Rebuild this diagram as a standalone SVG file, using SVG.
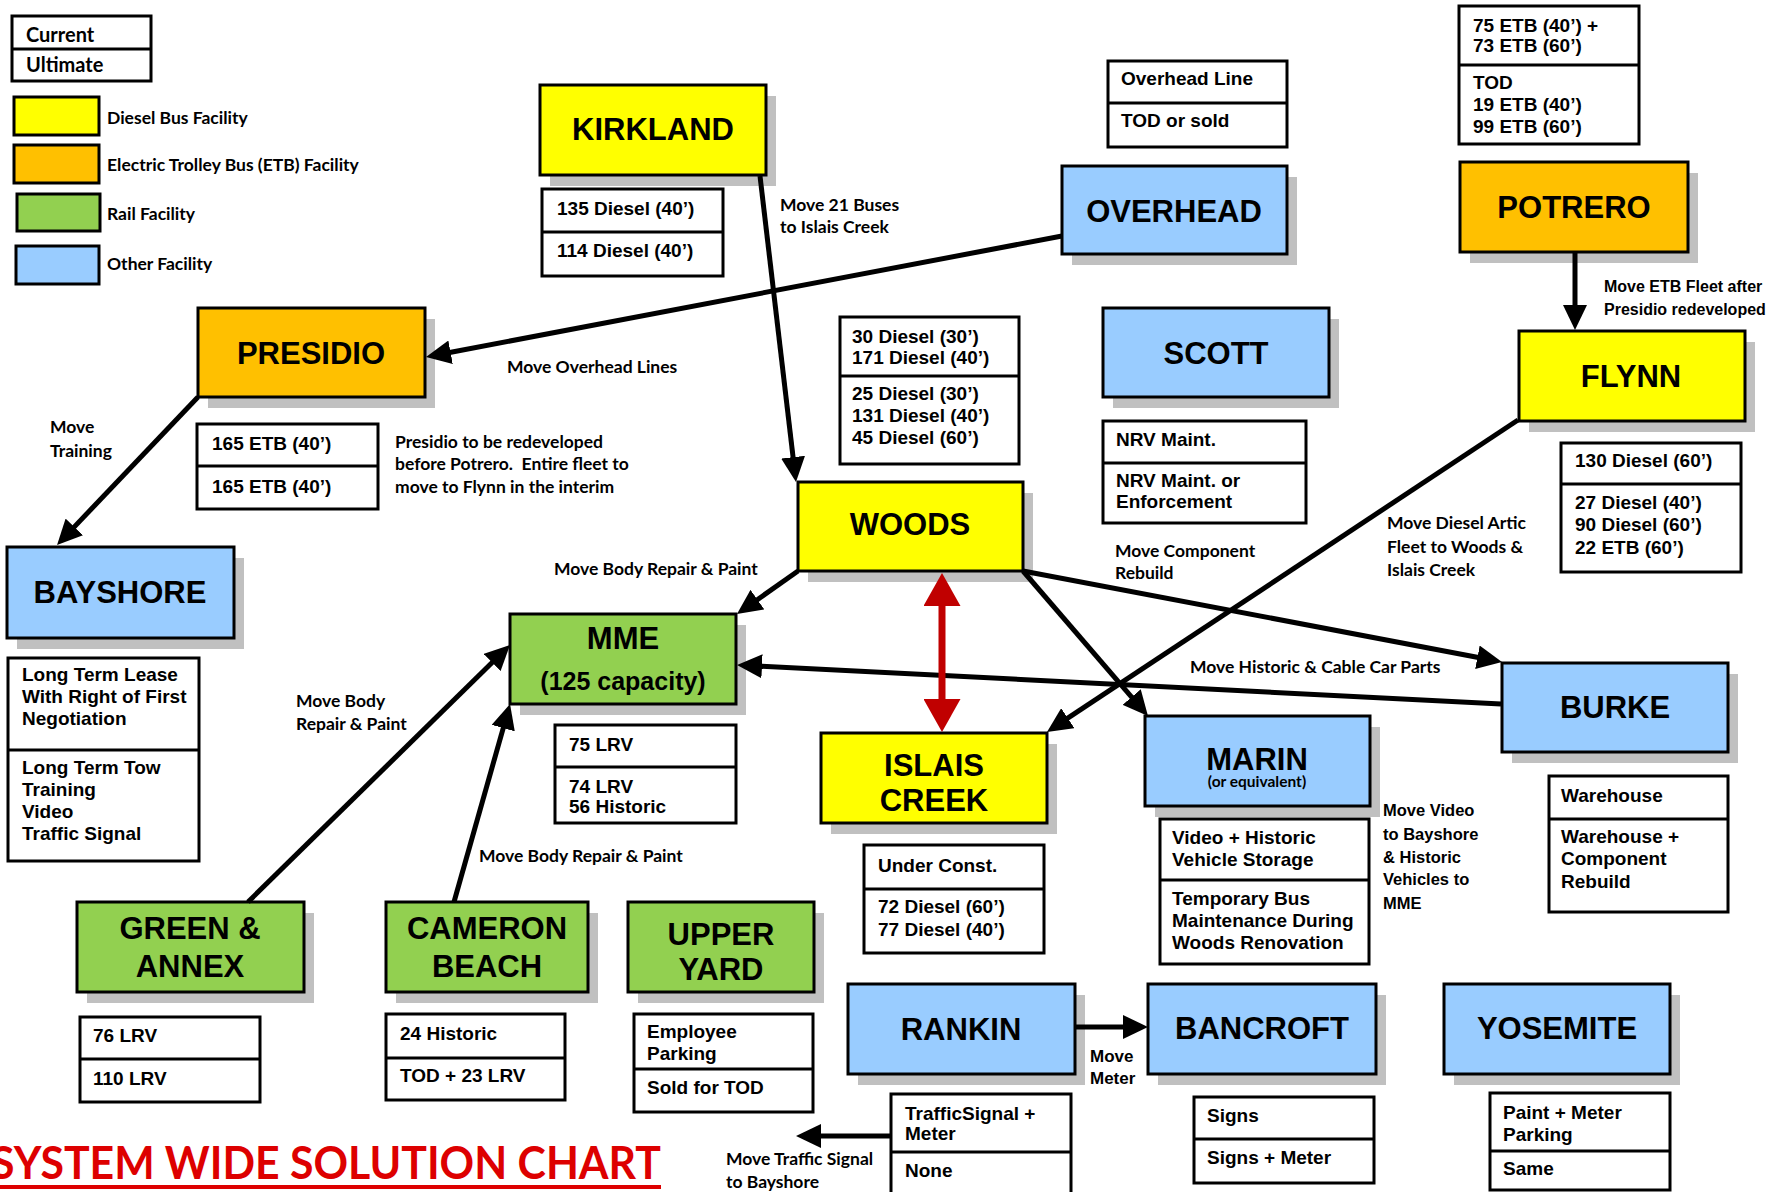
<svg xmlns="http://www.w3.org/2000/svg" width="1786" height="1192" viewBox="0 0 1786 1192">
<style>
.sh{fill:#c0c0c0}
.bx{stroke:#000;stroke-width:3}
.y{fill:#ffff00}.o{fill:#ffc000}.g{fill:#92d050}.b{fill:#99ccff}
.db{fill:#fff;stroke:#000;stroke-width:3}
.dv{stroke:#000;stroke-width:3}
.t{font-family:"Liberation Sans",Arial,sans-serif;font-weight:bold;font-size:31px;text-anchor:middle;fill:#000}
.d{font-family:"Liberation Sans",Arial,sans-serif;font-weight:bold;font-size:19px;fill:#000}
.c{font-family:Lato,"Open Sans",sans-serif;font-weight:bold;font-size:17.5px;fill:#000}
.n{font-family:"Liberation Sans",Arial,sans-serif;font-weight:bold;font-size:16px;fill:#000}
.cn{fill:none;stroke:#000;stroke-width:5;marker-end:url(#ah)}
</style>
<defs>
<marker id="ah" markerUnits="userSpaceOnUse" markerWidth="26" markerHeight="24" refX="1" refY="12" orient="auto"><path d="M0,0 L25,12 L0,24 z" fill="#000"/></marker>
<marker id="ahr" markerUnits="userSpaceOnUse" markerWidth="34" markerHeight="37" refX="0" refY="18.5" orient="auto-start-reverse"><path d="M0,0 L33,18.5 L0,37 z" fill="#c00000"/></marker>
</defs>
<rect width="1786" height="1192" fill="#fff"/>

<g id="legend">
<rect class="db" x="12" y="16" width="139" height="65"/>
<line class="dv" x1="12" y1="49" x2="151" y2="49"/>
<text class="c" x="26" y="42" style="font-size:20px">Current</text>
<text class="c" x="26" y="72" style="font-size:20px">Ultimate</text>
<rect class="bx y" x="14" y="97" width="85" height="38"/>
<rect class="bx o" x="14" y="145" width="85" height="38"/>
<rect class="bx g" x="17" y="194" width="83" height="37"/>
<rect class="bx b" x="16" y="246" width="83" height="38"/>
<text class="c" x="107" y="124">Diesel Bus Facility</text>
<text class="c" x="107" y="171">Electric Trolley Bus (ETB) Facility</text>
<text class="c" x="107" y="220">Rail Facility</text>
<text class="c" x="107" y="270">Other Facility</text>
</g>

<g id="kirkland"><rect class="sh" x="550" y="96" width="226" height="90"/><rect class="bx y" x="540" y="85" width="226" height="90"/><text class="t" x="653" y="140">KIRKLAND</text></g>
<g id="overhead"><rect class="sh" x="1072" y="177" width="225" height="88"/><rect class="bx b" x="1062" y="166" width="225" height="88"/><text class="t" x="1174" y="222">OVERHEAD</text></g>
<g id="potrero"><rect class="sh" x="1470" y="173" width="228" height="90"/><rect class="bx o" x="1460" y="162" width="228" height="90"/><text class="t" x="1574" y="218">POTRERO</text></g>
<g id="presidio"><rect class="sh" x="208" y="319" width="227" height="89"/><rect class="bx o" x="198" y="308" width="227" height="89"/><text class="t" x="311" y="364">PRESIDIO</text></g>
<g id="scott"><rect class="sh" x="1113" y="319" width="226" height="89"/><rect class="bx b" x="1103" y="308" width="226" height="89"/><text class="t" x="1216" y="364">SCOTT</text></g>
<g id="flynn"><rect class="sh" x="1529" y="342" width="226" height="90"/><rect class="bx y" x="1519" y="331" width="226" height="90"/><text class="t" x="1631" y="387">FLYNN</text></g>
<g id="woods"><rect class="sh" x="808" y="493" width="225" height="89"/><rect class="bx y" x="798" y="482" width="225" height="89"/><text class="t" x="910" y="535">WOODS</text></g>
<g id="bayshore"><rect class="sh" x="17" y="558" width="227" height="91"/><rect class="bx b" x="7" y="547" width="227" height="91"/><text class="t" x="120" y="603">BAYSHORE</text></g>
<g id="mme"><rect class="sh" x="520" y="625" width="226" height="90"/><rect class="bx g" x="510" y="614" width="226" height="90"/><text class="t" x="623" y="649">MME</text><text class="t" x="623" y="690" style="font-size:25px">(125 capacity)</text></g>
<g id="burke"><rect class="sh" x="1512" y="674" width="226" height="89"/><rect class="bx b" x="1502" y="663" width="226" height="89"/><text class="t" x="1615" y="718">BURKE</text></g>
<g id="islais"><rect class="sh" x="831" y="744" width="226" height="90"/><rect class="bx y" x="821" y="733" width="226" height="90"/><text class="t" x="934" y="776">ISLAIS</text><text class="t" x="934" y="811">CREEK</text></g>
<g id="marin"><rect class="sh" x="1155" y="727" width="225" height="90"/><rect class="bx b" x="1145" y="716" width="225" height="90"/><text class="t" x="1257" y="770">MARIN</text><text class="c" x="1257" y="787" style="font-size:15.5px;text-anchor:middle">(or equivalent)</text></g>
<g id="green-annex"><rect class="sh" x="87" y="913" width="227" height="90"/><rect class="bx g" x="77" y="902" width="227" height="90"/><text class="t" x="190" y="939">GREEN &amp;</text><text class="t" x="190" y="977">ANNEX</text></g>
<g id="cameron-beach"><rect class="sh" x="396" y="913" width="202" height="90"/><rect class="bx g" x="386" y="902" width="202" height="90"/><text class="t" x="487" y="939">CAMERON</text><text class="t" x="487" y="977">BEACH</text></g>
<g id="upper-yard"><rect class="sh" x="638" y="913" width="186" height="90"/><rect class="bx g" x="628" y="902" width="186" height="90"/><text class="t" x="721" y="945">UPPER</text><text class="t" x="721" y="980">YARD</text></g>
<g id="rankin"><rect class="sh" x="858" y="995" width="227" height="90"/><rect class="bx b" x="848" y="984" width="227" height="90"/><text class="t" x="961" y="1040">RANKIN</text></g>
<g id="bancroft"><rect class="sh" x="1158" y="995" width="228" height="90"/><rect class="bx b" x="1148" y="984" width="228" height="90"/><text class="t" x="1262" y="1039">BANCROFT</text></g>
<g id="yosemite"><rect class="sh" x="1454" y="995" width="226" height="90"/><rect class="bx b" x="1444" y="984" width="226" height="90"/><text class="t" x="1557" y="1039">YOSEMITE</text></g>

<g id="kirkland-data"><rect class="db" x="542" y="189" width="181" height="87"/><line class="dv" x1="542" y1="232" x2="723" y2="232"/><text class="d" x="557" y="215">135 Diesel (40’)</text><text class="d" x="557" y="257">114 Diesel (40’)</text></g>
<g id="overhead-data"><rect class="db" x="1108" y="61" width="179" height="86"/><line class="dv" x1="1108" y1="103" x2="1287" y2="103"/><text class="d" x="1121" y="85">Overhead Line</text><text class="d" x="1121" y="127">TOD or sold</text></g>
<g id="potrero-data"><rect class="db" x="1459" y="6" width="180" height="138"/><line class="dv" x1="1459" y1="65" x2="1639" y2="65"/><text class="d" x="1473" y="32">75 ETB (40’) +</text><text class="d" x="1473" y="52">73 ETB (60’)</text><text class="d" x="1473" y="89">TOD</text><text class="d" x="1473" y="111">19 ETB (40’)</text><text class="d" x="1473" y="133">99 ETB (60’)</text></g>
<g id="presidio-data"><rect class="db" x="197" y="424" width="181" height="85"/><line class="dv" x1="197" y1="466" x2="378" y2="466"/><text class="d" x="212" y="450">165 ETB (40’)</text><text class="d" x="212" y="493">165 ETB (40’)</text></g>
<g id="woods-data"><rect class="db" x="840" y="317" width="179" height="147"/><line class="dv" x1="840" y1="376" x2="1019" y2="376"/><text class="d" x="852" y="343">30 Diesel (30’)</text><text class="d" x="852" y="364">171 Diesel (40’)</text><text class="d" x="852" y="400">25 Diesel (30’)</text><text class="d" x="852" y="422">131 Diesel (40’)</text><text class="d" x="852" y="444">45 Diesel (60’)</text></g>
<g id="scott-data"><rect class="db" x="1103" y="421" width="203" height="102"/><line class="dv" x1="1103" y1="463" x2="1306" y2="463"/><text class="d" x="1116" y="446">NRV Maint.</text><text class="d" x="1116" y="487">NRV Maint. or</text><text class="d" x="1116" y="508">Enforcement</text></g>
<g id="flynn-data"><rect class="db" x="1561" y="443" width="180" height="129"/><line class="dv" x1="1561" y1="484" x2="1741" y2="484"/><text class="d" x="1575" y="467">130 Diesel (60’)</text><text class="d" x="1575" y="509">27 Diesel (40’)</text><text class="d" x="1575" y="531">90 Diesel (60’)</text><text class="d" x="1575" y="554">22 ETB (60’)</text></g>
<g id="bayshore-data"><rect class="db" x="8" y="658" width="191" height="203"/><line class="dv" x1="8" y1="750" x2="199" y2="750"/><text class="d" x="22" y="681">Long Term Lease</text><text class="d" x="22" y="703">With Right of First</text><text class="d" x="22" y="725">Negotiation</text><text class="d" x="22" y="774">Long Term Tow</text><text class="d" x="22" y="796">Training</text><text class="d" x="22" y="818">Video</text><text class="d" x="22" y="840">Traffic Signal</text></g>
<g id="mme-data"><rect class="db" x="555" y="725" width="181" height="98"/><line class="dv" x1="555" y1="767" x2="736" y2="767"/><text class="d" x="569" y="751">75 LRV</text><text class="d" x="569" y="793">74 LRV</text><text class="d" x="569" y="813">56 Historic</text></g>
<g id="islais-data"><rect class="db" x="864" y="845" width="180" height="108"/><line class="dv" x1="864" y1="889" x2="1044" y2="889"/><text class="d" x="878" y="872">Under Const.</text><text class="d" x="878" y="913">72 Diesel (60’)</text><text class="d" x="878" y="936">77 Diesel (40’)</text></g>
<g id="marin-data"><rect class="db" x="1160" y="819" width="209" height="145"/><line class="dv" x1="1160" y1="880" x2="1369" y2="880"/><text class="d" x="1172" y="844">Video + Historic</text><text class="d" x="1172" y="866">Vehicle Storage</text><text class="d" x="1172" y="905">Temporary Bus</text><text class="d" x="1172" y="927">Maintenance During</text><text class="d" x="1172" y="949">Woods Renovation</text></g>
<g id="burke-data"><rect class="db" x="1549" y="776" width="179" height="136"/><line class="dv" x1="1549" y1="819" x2="1728" y2="819"/><text class="d" x="1561" y="802">Warehouse</text><text class="d" x="1561" y="843">Warehouse +</text><text class="d" x="1561" y="865">Component</text><text class="d" x="1561" y="888">Rebuild</text></g>
<g id="green-data"><rect class="db" x="80" y="1017" width="180" height="85"/><line class="dv" x1="80" y1="1059" x2="260" y2="1059"/><text class="d" x="93" y="1042">76 LRV</text><text class="d" x="93" y="1085">110 LRV</text></g>
<g id="cameron-data"><rect class="db" x="386" y="1014" width="179" height="86"/><line class="dv" x1="386" y1="1058" x2="565" y2="1058"/><text class="d" x="400" y="1040">24 Historic</text><text class="d" x="400" y="1082">TOD + 23 LRV</text></g>
<g id="upper-data"><rect class="db" x="634" y="1014" width="179" height="98"/><line class="dv" x1="634" y1="1069" x2="813" y2="1069"/><text class="d" x="647" y="1038">Employee</text><text class="d" x="647" y="1060">Parking</text><text class="d" x="647" y="1094">Sold for TOD</text></g>
<g id="rankin-data"><rect class="db" x="891" y="1094" width="180" height="110"/><line class="dv" x1="891" y1="1152" x2="1071" y2="1152"/><text class="d" x="905" y="1120">TrafficSignal +</text><text class="d" x="905" y="1140">Meter</text><text class="d" x="905" y="1177">None</text></g>
<g id="bancroft-data"><rect class="db" x="1194" y="1097" width="180" height="86"/><line class="dv" x1="1194" y1="1139" x2="1374" y2="1139"/><text class="d" x="1207" y="1122">Signs</text><text class="d" x="1207" y="1164">Signs + Meter</text></g>
<g id="yosemite-data"><rect class="db" x="1490" y="1093" width="180" height="97"/><line class="dv" x1="1490" y1="1151" x2="1670" y2="1151"/><text class="d" x="1503" y="1119">Paint + Meter</text><text class="d" x="1503" y="1141">Parking</text><text class="d" x="1503" y="1175">Same</text></g>

<g id="connectors">
<line class="cn" x1="760" y1="176" x2="793.2" y2="458.2"/>
<line class="cn" x1="1062" y1="236" x2="449.6" y2="352.5"/>
<line class="cn" x1="198" y1="397" x2="73.6" y2="527.6"/>
<line class="cn" x1="1575" y1="252" x2="1575" y2="306"/>
<line class="cn" x1="798" y1="571" x2="756.6" y2="600.2"/>
<line class="cn" x1="1023" y1="571" x2="1478.4" y2="657.5"/>
<line class="cn" x1="1023" y1="571" x2="1132.3" y2="697.8"/>
<line class="cn" x1="1518" y1="420" x2="1067" y2="718.7"/>
<line class="cn" x1="1501" y1="704" x2="761" y2="666.2"/>
<line class="cn" x1="248" y1="902" x2="492.9" y2="661.8"/>
<line class="cn" x1="454" y1="902" x2="503.5" y2="727.1"/>
<line class="cn" x1="1075" y1="1027" x2="1124" y2="1027"/>
<line class="cn" x1="891" y1="1136" x2="820" y2="1136"/>
<line x1="942" y1="606" x2="942" y2="699" stroke="#c00000" stroke-width="7" marker-start="url(#ahr)" marker-end="url(#ahr)"/>
</g>

<g id="labels">
<text class="c" x="780" y="211">Move 21 Buses</text>
<text class="c" x="780" y="233">to Islais Creek</text>
<text class="c" x="507" y="373">Move Overhead Lines</text>
<text class="c" x="395" y="448">Presidio to be redeveloped</text>
<text class="c" x="395" y="470" xml:space="preserve">before Potrero.  Entire fleet to</text>
<text class="c" x="395" y="493">move to Flynn in the interim</text>
<text class="c" x="50" y="433">Move</text>
<text class="c" x="50" y="457">Training</text>
<text class="n" x="1604" y="292">Move ETB Fleet after</text>
<text class="n" x="1604" y="315">Presidio redeveloped</text>
<text class="c" x="554" y="575">Move Body Repair &amp; Paint</text>
<text class="c" x="1115" y="557">Move Component</text>
<text class="c" x="1115" y="579">Rebuild</text>
<text class="c" x="1387" y="529">Move Diesel Artic</text>
<text class="c" x="1387" y="553">Fleet to Woods &amp;</text>
<text class="c" x="1387" y="576">Islais Creek</text>
<text class="c" x="1190" y="673">Move Historic &amp; Cable Car Parts</text>
<text class="c" x="296" y="707">Move Body</text>
<text class="c" x="296" y="730">Repair &amp; Paint</text>
<text class="c" x="479" y="862">Move Body Repair &amp; Paint</text>
<text class="n" x="1383" y="816" style="font-size:16.5px">Move Video</text>
<text class="n" x="1383" y="840" style="font-size:16.5px">to Bayshore</text>
<text class="n" x="1383" y="863" style="font-size:16.5px">&amp; Historic</text>
<text class="n" x="1383" y="885" style="font-size:16.5px">Vehicles to</text>
<text class="n" x="1383" y="909" style="font-size:16.5px">MME</text>
<text class="n" x="1090" y="1062" style="font-size:17px">Move</text>
<text class="n" x="1090" y="1084" style="font-size:17px">Meter</text>
<text class="c" x="726" y="1165">Move Traffic Signal</text>
<text class="c" x="726" y="1188">to Bayshore</text>
</g>

<g id="title">
<text x="-9" y="1179" textLength="670" lengthAdjust="spacingAndGlyphs" style="font-family:Lato,'Open Sans',sans-serif;font-weight:bold;font-size:45px;fill:#dd0000">SYSTEM WIDE SOLUTION CHART</text>
<rect x="0" y="1185" width="661" height="4" fill="#dd0000"/>
</g>
</svg>
